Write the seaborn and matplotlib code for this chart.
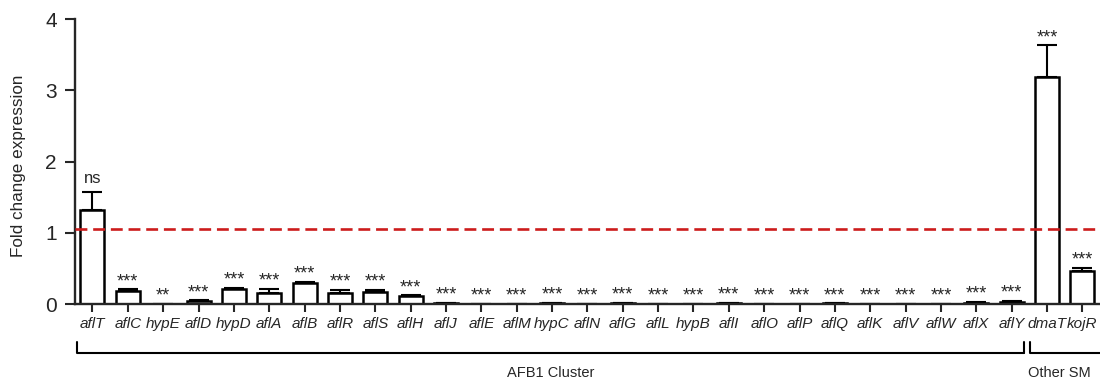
import matplotlib

matplotlib.use("Agg")

import matplotlib.pyplot as plt
import pandas as pd
import seaborn as sns

GENES = [
    "aflT", "aflC", "hypE", "aflD", "hypD", "aflA", "aflB", "aflR", "aflS", "aflH",
    "aflJ", "aflE", "aflM", "hypC", "aflN", "aflG", "aflL", "hypB", "aflI", "aflO",
    "aflP", "aflQ", "aflK", "aflV", "aflW", "aflX", "aflY", "dmaT", "kojR",
]
FOLD = [
    1.32, 0.18, 0.005, 0.04, 0.21, 0.16, 0.30, 0.15, 0.17, 0.11,
    0.01, 0.003, 0.003, 0.01, 0.003, 0.01, 0.003, 0.003, 0.01, 0.005,
    0.003, 0.008, 0.003, 0.003, 0.003, 0.02, 0.035, 3.19, 0.46,
]
SEM = [
    0.25, 0.025, 0.002, 0.01, 0.02, 0.05, 0.01, 0.045, 0.03, 0.01,
    0.003, 0.001, 0.001, 0.003, 0.001, 0.003, 0.001, 0.001, 0.003, 0.002,
    0.001, 0.002, 0.001, 0.001, 0.001, 0.005, 0.008, 0.44, 0.05,
]
SIGNIF = ["ns", "***", "**"] + ["***"] * 26
THRESHOLD = 1.05
GROUPS = [("AFB1 Cluster", 0, 26), ("Other SM", 27, 28)]

sns.set_theme(style="ticks")
plt.rcParams["font.family"] = ["Liberation Sans", "DejaVu Sans"]

df = pd.DataFrame({"gene": GENES, "fold": FOLD, "sem": SEM})

fig = plt.figure(figsize=(11, 3.81), dpi=100)
ax = fig.add_axes([0.068, 0.202, 0.932, 0.748])

sns.barplot(
    data=df, x="gene", y="fold", order=GENES, color="white",
    edgecolor="black", linewidth=1.8, width=0.68, errorbar=None, ax=ax,
)
xs = range(len(GENES))
ax.errorbar(
    xs, FOLD, yerr=[[0] * len(SEM), SEM], fmt="none", ecolor="black",
    elinewidth=1.5, capsize=7, capthick=1.5, zorder=1,
)
for x, y, e, s in zip(xs, FOLD, SEM, SIGNIF):
    if s == "ns":
        ax.text(x, y + e + 0.08, s, ha="center", va="bottom", fontsize=12)
    else:
        ax.text(x, y + e - 0.01, s, ha="center", va="bottom", fontsize=13)

ax.axhline(THRESHOLD, color="#cc1c1c", linestyle=(0, (4.5, 2.2)), linewidth=1.9, zorder=3)

ax.set_xlim(-0.5, 28.5)
ax.set_ylim(0, 4)
ax.set_yticks([0, 1, 2, 3, 4])
ax.tick_params(axis="y", labelsize=15, width=1.5, length=7, pad=6)
ax.tick_params(axis="x", labelsize=11, width=1.5, length=6)
for lab in ax.get_xticklabels():
    lab.set_fontstyle("italic")
ax.set_xlabel("")
ax.set_ylabel("Fold change expression", fontsize=12.3, labelpad=10)
ax.yaxis.set_label_coords(-0.048, 0.485)
for side in ["top", "right"]:
    ax.spines[side].set_visible(False)
for side in ["left", "bottom"]:
    ax.spines[side].set_linewidth(1.7)

# group brackets under the tick labels
y_line, y_tip = -0.687, -0.53
for name, i0, i1 in GROUPS:
    x0 = i0 - 0.45 if i0 == 0 else i0 - 0.47
    x1 = i1 + 0.36 if i1 == 26 else i1 + 0.6
    ax.plot([x0, x0, x1], [y_tip, y_line, y_line], color="black", lw=1.5, clip_on=False)
    if i1 == 26:
        ax.plot([x1, x1], [y_line, y_tip], color="black", lw=1.5, clip_on=False)
    cx = (x0 + x1) / 2 if i1 == 26 else 27.35
    ax.text(cx, -0.97, name, ha="center", va="center", fontsize=10.5, clip_on=False)

fig.savefig("out.png", dpi=100)
